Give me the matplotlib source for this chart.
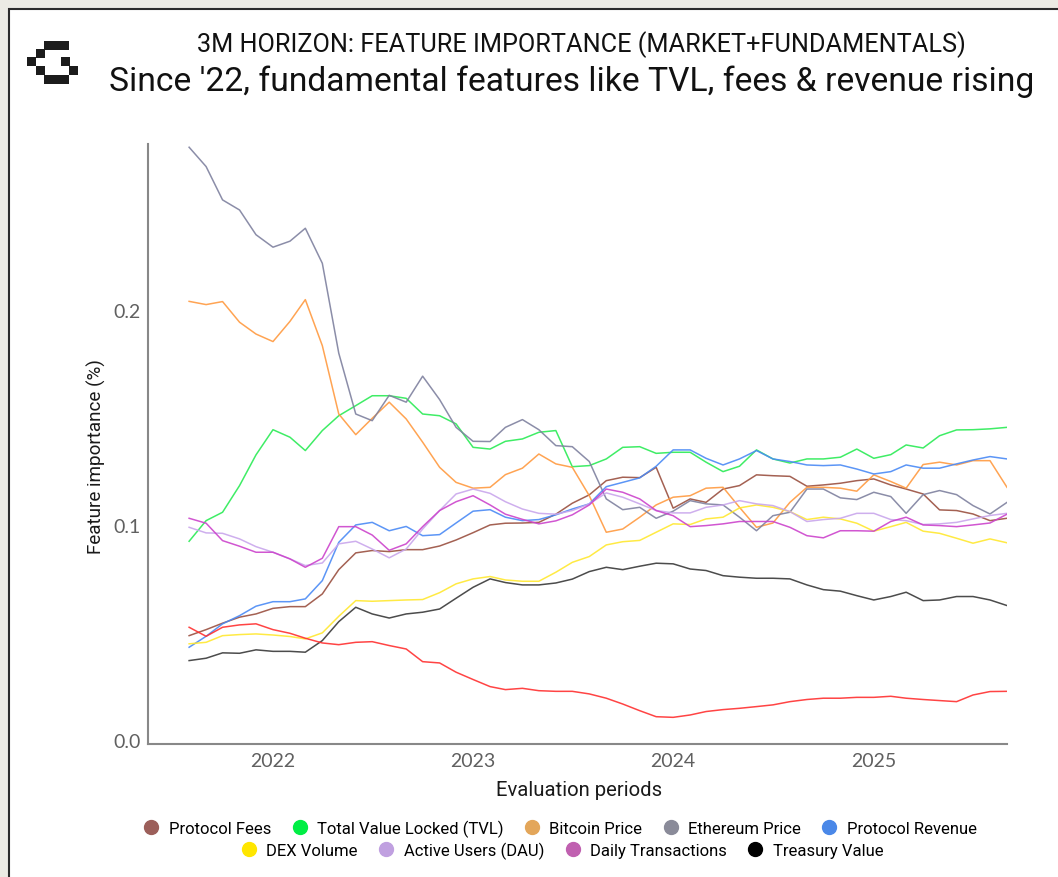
import numpy as np
import pandas as pd
import matplotlib
matplotlib.use("Agg")
import matplotlib.pyplot as plt
from matplotlib.lines import Line2D
from matplotlib.patches import Rectangle
import matplotlib.dates as mdates

plt.rcParams['font.family'] = ['Roboto', 'DejaVu Sans']

dates = pd.date_range("2021-08-01", "2025-09-01", freq="MS")

protocol_fees = [0.0485, 0.0513, 0.0543, 0.0571, 0.0586, 0.0612, 0.0620, 0.0620, 0.0679, 0.0792,
                 0.0870, 0.0881, 0.0876, 0.0885, 0.0885, 0.0902, 0.0930, 0.0964, 0.1000, 0.1008,
                 0.1009, 0.1012, 0.1050, 0.1101, 0.1140, 0.1206, 0.1222, 0.1220, 0.1268, 0.1078,
                 0.1121, 0.1105, 0.1167, 0.1183, 0.1233, 0.1229, 0.1226, 0.1180, 0.1186, 0.1194,
                 0.1206, 0.1214, 0.1186, 0.1167, 0.1144, 0.1070, 0.1067, 0.1051, 0.1020, 0.1031]
tvl = [0.0924, 0.1020, 0.1059, 0.1183, 0.1326, 0.1443, 0.1408, 0.1346, 0.1439, 0.1508,
       0.1555, 0.1601, 0.1601, 0.1589, 0.1516, 0.1508, 0.1470, 0.1361, 0.1353, 0.1389,
       0.1400, 0.1431, 0.1439, 0.1271, 0.1276, 0.1307, 0.1361, 0.1364, 0.1333, 0.1338,
       0.1338, 0.1292, 0.1248, 0.1273, 0.1349, 0.1307, 0.1288, 0.1307, 0.1307, 0.1315,
       0.1353, 0.1310, 0.1327, 0.1372, 0.1358, 0.1415, 0.1442, 0.1443, 0.1447, 0.1454]
bitcoin_price = [0.2040, 0.2025, 0.2039, 0.1943, 0.1888, 0.1853, 0.1947, 0.2048, 0.1834, 0.1516,
                 0.1420, 0.1496, 0.1571, 0.1493, 0.1385, 0.1268, 0.1198, 0.1171, 0.1175, 0.1234,
                 0.1264, 0.1330, 0.1284, 0.1268, 0.1136, 0.0966, 0.0981, 0.1036, 0.1093, 0.1129,
                 0.1136, 0.1171, 0.1175, 0.1082, 0.0989, 0.1009, 0.1105, 0.1175, 0.1175, 0.1171,
                 0.1157, 0.1233, 0.1202, 0.1171, 0.1281, 0.1292, 0.1279, 0.1299, 0.1299, 0.1175]
ethereum_price = [0.2757, 0.2667, 0.2512, 0.2465, 0.2350, 0.2292, 0.2320, 0.2380, 0.2217, 0.1799,
                  0.1516, 0.1485, 0.1603, 0.1571, 0.1692, 0.1583, 0.1454, 0.1389, 0.1388, 0.1454,
                  0.1490, 0.1443, 0.1369, 0.1364, 0.1295, 0.1121, 0.1071, 0.1082, 0.1031, 0.1064,
                  0.1113, 0.1098, 0.1093, 0.1036, 0.0973, 0.1043, 0.1059, 0.1167, 0.1167, 0.1126,
                  0.1118, 0.1152, 0.1132, 0.1054, 0.1141, 0.1160, 0.1141, 0.1090, 0.1051, 0.1105]
protocol_revenue = [0.0431, 0.0482, 0.0540, 0.0578, 0.0622, 0.0643, 0.0643, 0.0656, 0.0741, 0.0919,
                    0.1000, 0.1012, 0.0973, 0.0993, 0.0950, 0.0955, 0.1009, 0.1064, 0.1071, 0.1036,
                    0.1020, 0.1025, 0.1047, 0.1074, 0.1098, 0.1178, 0.1198, 0.1219, 0.1273, 0.1349,
                    0.1349, 0.1310, 0.1279, 0.1307, 0.1346, 0.1307, 0.1295, 0.1279, 0.1276, 0.1279,
                    0.1260, 0.1237, 0.1248, 0.1279, 0.1264, 0.1264, 0.1284, 0.1302, 0.1318, 0.1307]
dex_volume = [0.0447, 0.0454, 0.0485, 0.0490, 0.0493, 0.0488, 0.0481, 0.0470, 0.0498, 0.0575,
              0.0648, 0.0645, 0.0648, 0.0651, 0.0653, 0.0685, 0.0726, 0.0749, 0.0760, 0.0744,
              0.0738, 0.0738, 0.0780, 0.0826, 0.0853, 0.0907, 0.0922, 0.0928, 0.0966, 0.1005,
              0.1002, 0.1028, 0.1036, 0.1079, 0.1093, 0.1082, 0.1062, 0.1025, 0.1036, 0.1028,
              0.1008, 0.0971, 0.0992, 0.1012, 0.0971, 0.0961, 0.0938, 0.0915, 0.0935, 0.0917]
active_users = [0.0989, 0.0963, 0.0961, 0.0935, 0.0899, 0.0873, 0.0842, 0.0811, 0.0823, 0.0912,
                0.0924, 0.0888, 0.0847, 0.0888, 0.0981, 0.1067, 0.1144, 0.1167, 0.1147, 0.1108,
                0.1074, 0.1054, 0.1050, 0.1067, 0.1098, 0.1149, 0.1129, 0.1098, 0.1067, 0.1056,
                0.1056, 0.1082, 0.1093, 0.1113, 0.1098, 0.1090, 0.1062, 0.1016, 0.1025, 0.1031,
                0.1054, 0.1054, 0.1025, 0.1020, 0.1002, 0.1005, 0.1012, 0.1028, 0.1044, 0.1054]
daily_transactions = [0.1031, 0.1008, 0.0927, 0.0901, 0.0873, 0.0873, 0.0842, 0.0803, 0.0845, 0.0992,
                      0.0992, 0.0953, 0.0882, 0.0912, 0.0992, 0.1067, 0.1108, 0.1136, 0.1093, 0.1050,
                      0.1026, 0.1005, 0.1019, 0.1047, 0.1093, 0.1167, 0.1152, 0.1121, 0.1067, 0.1043,
                      0.0992, 0.0997, 0.1005, 0.1016, 0.1016, 0.1016, 0.0989, 0.0950, 0.0940, 0.0973,
                      0.0973, 0.0971, 0.1016, 0.1036, 0.1000, 0.0997, 0.0992, 0.1000, 0.1009, 0.1050]
treasury_value = [0.0369, 0.0380, 0.0405, 0.0403, 0.0419, 0.0412, 0.0412, 0.0408, 0.0462, 0.0550,
                  0.0617, 0.0586, 0.0567, 0.0586, 0.0594, 0.0609, 0.0659, 0.0710, 0.0749, 0.0732,
                  0.0721, 0.0721, 0.0730, 0.0748, 0.0783, 0.0803, 0.0792, 0.0808, 0.0822, 0.0819,
                  0.0795, 0.0788, 0.0764, 0.0757, 0.0752, 0.0752, 0.0749, 0.0721, 0.0699, 0.0692,
                  0.0671, 0.0651, 0.0667, 0.0687, 0.0648, 0.0651, 0.0667, 0.0667, 0.0651, 0.0625]
unlabeled_red = [0.0524, 0.0482, 0.0524, 0.0535, 0.0540, 0.0513, 0.0496, 0.0473, 0.0451, 0.0443,
                 0.0454, 0.0457, 0.0439, 0.0423, 0.0364, 0.0358, 0.0315, 0.0281, 0.0248, 0.0234,
                 0.0240, 0.0229, 0.0226, 0.0226, 0.0214, 0.0194, 0.0167, 0.0136, 0.0108, 0.0105,
                 0.0116, 0.0132, 0.0141, 0.0147, 0.0155, 0.0163, 0.0178, 0.0188, 0.0194, 0.0194,
                 0.0198, 0.0198, 0.0203, 0.0194, 0.0188, 0.0183, 0.0178, 0.0209, 0.0225, 0.0226]

labels = ["Protocol Fees", "Total Value Locked (TVL)", "Bitcoin Price", "Ethereum Price",
          "Protocol Revenue", "DEX Volume", "Active Users (DAU)", "Daily Transactions",
          "Treasury Value"]
series = [protocol_fees, tvl, bitcoin_price, ethereum_price, protocol_revenue,
          dex_volume, active_users, daily_transactions, treasury_value]
line_colors = ["#9a5040", "#2aeb55", "#ff9a40", "#7f819f", "#4a8af5",
               "#ffe830", "#c9a6ec", "#cc44cc", "#383838"]
marker_colors = ["#9c5f5a", "#00ee44", "#e3a65a", "#8a8b99", "#4a88e8",
                 "#ffe600", "#c0a0e0", "#c060b0", "#000000"]
red_color = "#ff3030"

W, H = 1058, 878
fig = plt.figure(figsize=(W / 100, H / 100), dpi=100)
fig.patch.set_facecolor("#ecebe4")

def fx(px):
    return px / W

def fy(py):
    return 1 - py / H

# white panel with border (behind everything)
fig.patches.append(Rectangle((fx(9), fy(H + 20)), fx(W + 20), (H + 10) / H,
                             transform=fig.transFigure, facecolor="white",
                             edgecolor="#2b2b2b", linewidth=1.5, zorder=-10))

# pixel logo
blocks = [(44, 42, 25, 8.5), (36, 50, 8.5, 8.5), (27, 58, 9, 9), (36, 67, 8.5, 9),
          (44, 76, 25, 8.5), (61, 58, 8.5, 9), (69, 67, 9, 9)]
for bx, by, bw, bh in blocks:
    fig.patches.append(Rectangle((fx(bx), fy(by + bh)), fx(bw), bh / H,
                                 transform=fig.transFigure, facecolor="#1c1c1c",
                                 edgecolor="none", zorder=-5))

ax = fig.add_axes([fx(148), fy(745), fx(1007) - fx(148), (745 - 145) / H])
ax.set_zorder(1)
ax.patch.set_alpha(0)

for vals, c in zip(series, line_colors):
    ax.plot(dates, vals, color=c, lw=1.1, alpha=0.9)
ax.plot(dates, unlabeled_red, color=red_color, lw=1.1, alpha=0.9)

ax.set_ylim(-0.0019, 0.2772)
ax.set_xlim(pd.Timestamp("2021-05-18"), pd.Timestamp("2025-09-01"))
ax.xaxis.set_major_locator(mdates.YearLocator())
ax.xaxis.set_major_formatter(mdates.DateFormatter("%Y"))
ax.set_yticks([0.0, 0.1, 0.2])
ax.set_yticklabels(["0.0", "0.1", "0.2"])
for s in ["top", "right"]:
    ax.spines[s].set_visible(False)
for s in ["left", "bottom"]:
    ax.spines[s].set_color("#888888")
    ax.spines[s].set_linewidth(1.5)
ax.tick_params(axis="both", length=0, labelsize=14, labelcolor="#606060")
ax.tick_params(axis="y", pad=5)
ax.tick_params(axis="x", pad=6)
for t in ax.get_xticklabels() + ax.get_yticklabels():
    t.set_fontfamily(["Lato", "DejaVu Sans"])

ax.set_ylabel("Feature importance (%)", fontsize=13.6, color="#1a1a1a")
ax.yaxis.set_label_coords((106 - 148) / 859, (745 - 457) / 600)
ax.set_xlabel("Evaluation periods", fontsize=14.6, color="#1a1a1a")
ax.xaxis.set_label_coords((579 - 148) / 859, (745 - 781) / 600)

renderer = fig.canvas.get_renderer()

def fitted_text(x_c, y_c, s, target_w, size):
    t = fig.text(fx(x_c), fy(y_c), s, ha="center", va="center", fontsize=size,
                 color="#111111")
    w = t.get_window_extent(renderer).width
    t.set_fontsize(size * target_w / w)
    return t

fitted_text(581, 45, "3M HORIZON: FEATURE IMPORTANCE (MARKET+FUNDAMENTALS)", 768, 16)
fitted_text(572, 82, "Since '22, fundamental features like TVL, fees & revenue rising", 925, 21)

# legends (two centered rows)
handles = [Line2D([], [], marker="o", linestyle="", markersize=10, color=c)
           for c in marker_colors]
common = dict(frameon=False, fontsize=12, handlelength=1.0, handletextpad=0.55,
              columnspacing=1.2, loc="center", borderaxespad=0)
fig.legend(handles[:5], labels[:5], ncol=5, bbox_to_anchor=(fx(560), fy(829)), **common)
fig.legend(handles[5:], labels[5:], ncol=4, bbox_to_anchor=(fx(562), fy(851)), **common)

fig.savefig("out.png", dpi=100, facecolor=fig.get_facecolor())
